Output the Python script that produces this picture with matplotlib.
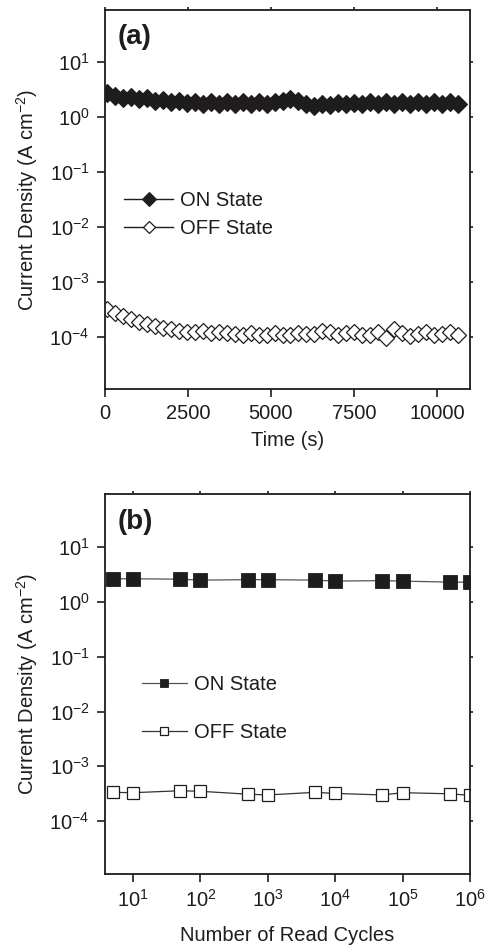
import matplotlib
matplotlib.use("Agg")
import matplotlib.pyplot as plt
from matplotlib.ticker import LogLocator, NullLocator

plt.rcParams['font.family'] = ['Liberation Sans', 'DejaVu Sans']
plt.rcParams['mathtext.fontset'] = 'custom'
plt.rcParams['mathtext.rm'] = 'Liberation Sans'
plt.rcParams['mathtext.it'] = 'Liberation Sans:italic'
plt.rcParams['mathtext.bf'] = 'Liberation Sans:bold'
plt.rcParams['mathtext.default'] = 'regular'
plt.rcParams['axes.unicode_minus'] = False

# ---------------- data ----------------
# Panel (a): retention vs time
time_s = [70 + 240 * i for i in range(45)]
on_a = [2.7, 2.45, 2.2, 2.35, 2.1, 2.2, 1.95, 2.05, 1.85, 1.95,
        1.8, 1.9, 1.75, 1.85, 1.75, 1.9, 1.75, 1.85, 1.75, 1.9,
        1.75, 1.85, 2.0, 2.15, 2.0, 1.7, 1.6, 1.75, 1.65, 1.8,
        1.7, 1.8, 1.7, 1.85, 1.75, 1.85, 1.7, 1.85, 1.75, 1.85,
        1.7, 1.85, 1.75, 1.85, 1.75]
off_a = [3.16e-4, 2.67e-4, 2.42e-4, 2.13e-4, 1.87e-4, 1.70e-4, 1.57e-4, 1.46e-4, 1.36e-4, 1.27e-4,
         1.20e-4, 1.20e-4, 1.27e-4, 1.18e-4, 1.22e-4, 1.18e-4, 1.12e-4, 1.10e-4, 1.15e-4, 1.09e-4,
         1.07e-4, 1.17e-4, 1.07e-4, 1.10e-4, 1.15e-4, 1.12e-4, 1.13e-4, 1.29e-4, 1.22e-4, 1.07e-4,
         1.18e-4, 1.22e-4, 1.07e-4, 1.10e-4, 1.20e-4, 0.97e-4, 1.38e-4, 1.18e-4, 1.04e-4, 1.12e-4,
         1.20e-4, 1.06e-4, 1.12e-4, 1.20e-4, 1.07e-4]
xticks_a = [0, 2500, 5000, 7500, 10000]

# Panel (b): endurance vs read cycles
cycles = [5, 10, 50, 100, 500, 1000, 5000, 1e4, 5e4, 1e5, 5e5, 1e6]
on_b = [2.65, 2.65, 2.6, 2.5, 2.55, 2.55, 2.5, 2.4, 2.45, 2.4, 2.3, 2.3]
off_b = [3.35e-4, 3.3e-4, 3.58e-4, 3.5e-4, 3.1e-4, 3.0e-4, 3.35e-4, 3.2e-4, 3.0e-4, 3.3e-4, 3.15e-4, 2.95e-4]

ylabel = "Current Density (A cm$^{-2}$)"
black = '#1e1c1d'
FS = 14.5

fig = plt.figure(figsize=(4.86, 9.48), dpi=100)
ax1 = fig.add_axes([105/486, 1 - 389/948, 365/486, 379/948])
ax2 = fig.add_axes([105/486, 1 - 873.7/948, 365/486, 379.7/948])

def style(ax):
    for s in ax.spines.values():
        s.set_linewidth(1.3)
        s.set_color(black)
    ax.tick_params(which='major', direction='out', length=6, width=1.2,
                   labelsize=FS, pad=5, color=black, labelcolor=black,
                   top=True, right=True)
    ax.yaxis.set_major_locator(LogLocator(base=10, numticks=20))
    ax.yaxis.set_minor_locator(NullLocator())

# ---- panel (a)
ax1.set_yscale('log')
ax1.plot(time_s, on_a, '-', color=black, lw=1.0, marker='D', ms=9.5,
         mfc=black, mec=black, mew=0.8, label='ON State')
ax1.plot(time_s, off_a, '-', color=black, lw=1.0, marker='D', ms=7.8,
         mfc='white', mec=black, mew=0.9, label='OFF State')
ax1.set_xlim(0, 11000)
ax1.set_ylim(10**-4.95, 10**1.95)
style(ax1)
ax1.set_xticks(xticks_a)
ax1.set_xticklabels([str(v) for v in xticks_a])
ax1.set_xlabel("Time (s)", fontsize=FS, color=black)
ax1.set_ylabel(ylabel, fontsize=FS, color=black)
ax1.yaxis.set_label_coords(-0.178, 0.5)
ax1.xaxis.set_label_coords(0.5, -0.11)
ax1.text(0.035, 0.928, "(a)", transform=ax1.transAxes, fontsize=20,
         fontweight='bold', va='center', ha='left', color=black)
leg1 = ax1.legend(loc='center left', bbox_to_anchor=(0.052, 0.46), frameon=False,
                  fontsize=FS, handlelength=2.44, handletextpad=0.35,
                  labelspacing=0.44, borderpad=0, borderaxespad=0, numpoints=1,
                  markerscale=0.8)
for t in leg1.get_texts():
    t.set_color(black)

# ---- panel (b)
ax2.set_xscale('log')
ax2.set_yscale('log')
ax2.plot(cycles, on_b, '-', color='#555555', lw=0.9, marker='s', ms=10.5,
         mfc=black, mec=black, mew=0.6, label='ON State')
ax2.plot(cycles, off_b, '-', color='#333333', lw=0.9, marker='s', ms=8.5,
         mfc='white', mec=black, mew=0.9, label='OFF State')
ax2.set_xlim(10**0.584, 1e6)
ax2.set_ylim(10**-4.96, 10**1.97)
style(ax2)
ax2.xaxis.set_major_locator(LogLocator(base=10, numticks=20))
ax2.xaxis.set_minor_locator(NullLocator())
ax2.set_xlabel("Number of Read Cycles", fontsize=FS, color=black)
ax2.set_ylabel(ylabel, fontsize=FS, color=black)
ax2.yaxis.set_label_coords(-0.178, 0.5)
ax2.xaxis.set_label_coords(0.5, -0.137)
ax2.text(0.035, 0.925, "(b)", transform=ax2.transAxes, fontsize=20,
         fontweight='bold', va='center', ha='left', color=black)
leg2 = ax2.legend(loc='center left', bbox_to_anchor=(0.101, 0.4356), frameon=False,
                  fontsize=FS, handlelength=2.24, handletextpad=0.35,
                  labelspacing=1.44, borderpad=0, borderaxespad=0, numpoints=1,
                  markerscale=0.6)
for t in leg2.get_texts():
    t.set_color(black)

for ax in (ax1, ax2):
    for tk in ax.xaxis.get_major_ticks():
        tk.tick2line.set_markersize(2.5)
    for tk in ax.yaxis.get_major_ticks():
        tk.tick2line.set_markersize(2.5)

fig.savefig("out.png", dpi=100)
